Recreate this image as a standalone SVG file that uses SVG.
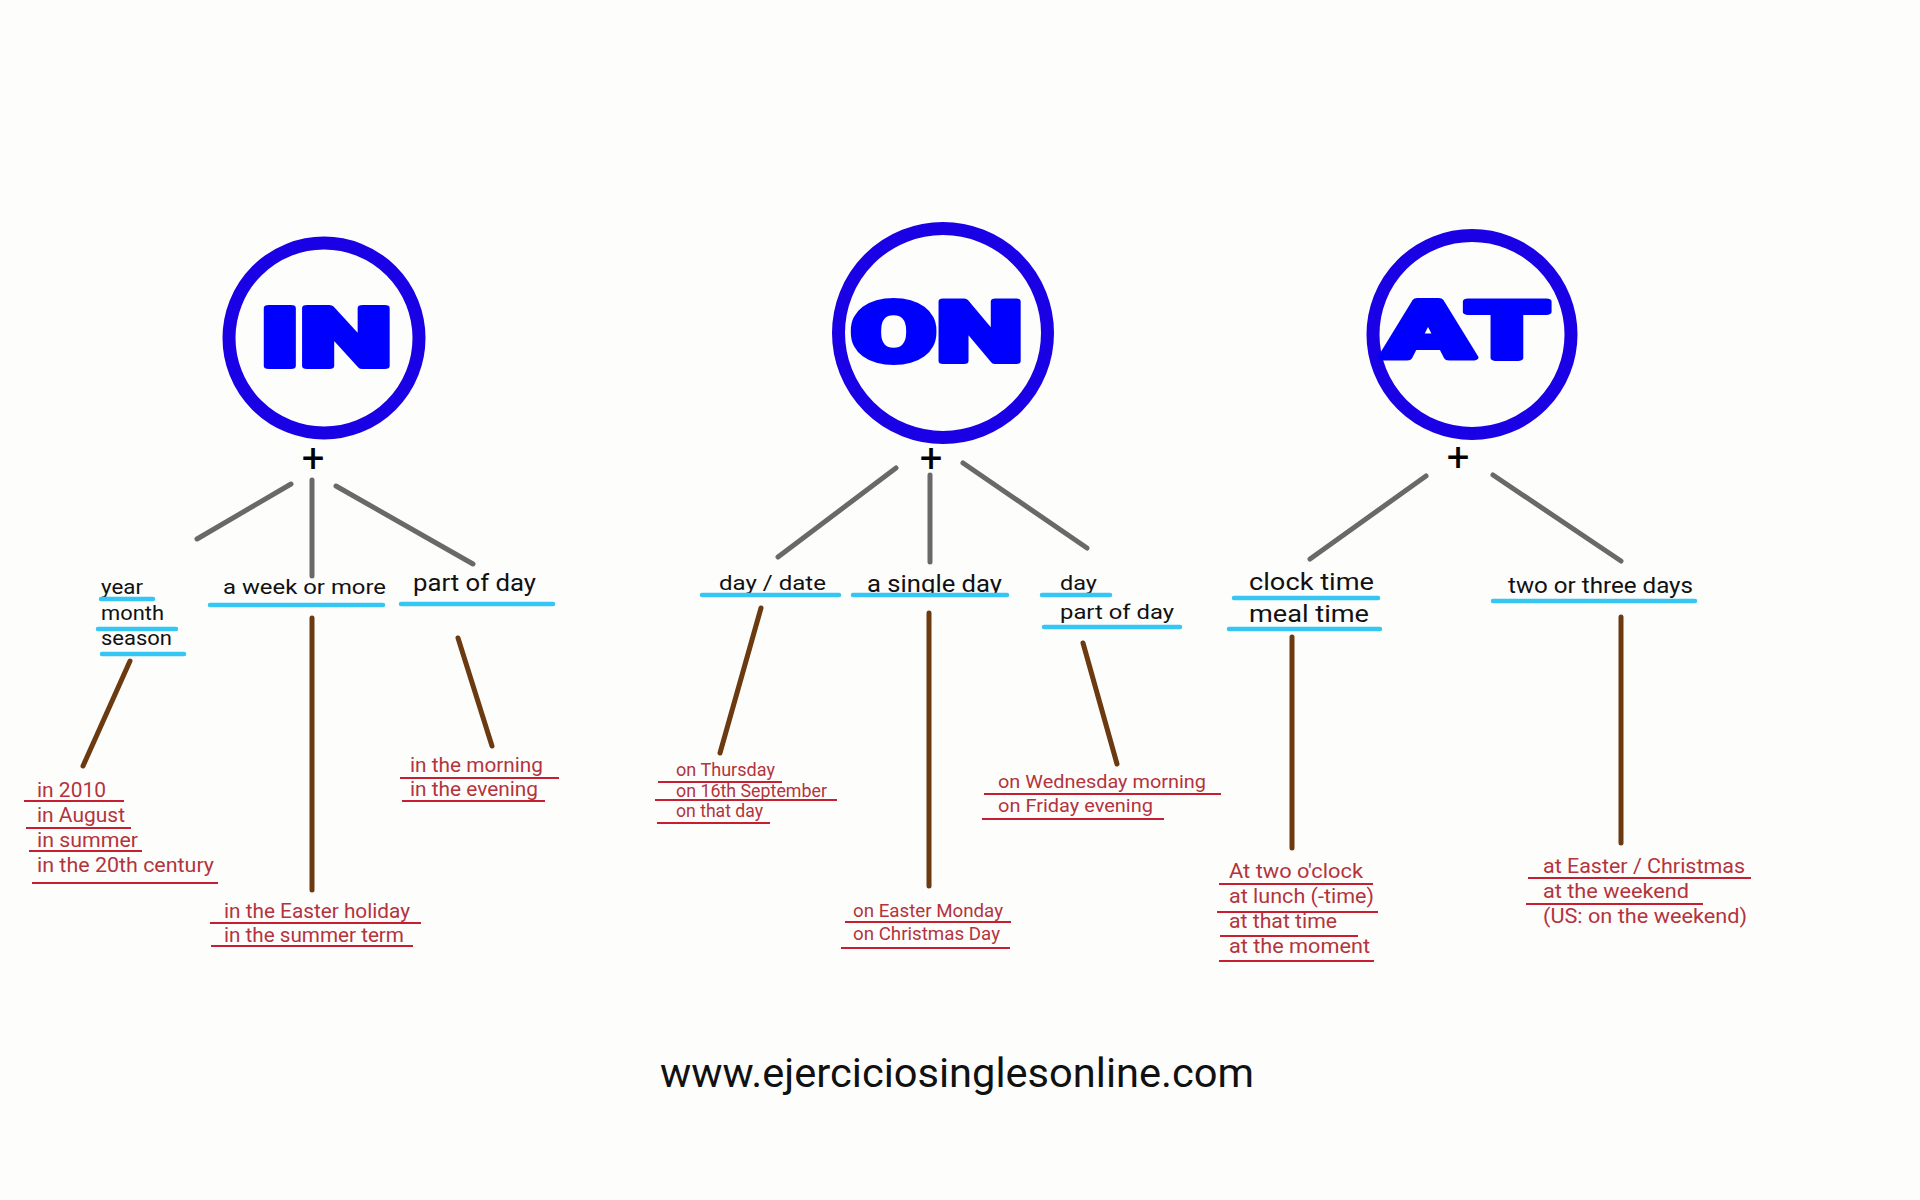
<svg xmlns="http://www.w3.org/2000/svg" width="1920" height="1200" viewBox="0 0 1920 1200">
<style>
.bg{fill:#fdfdfc}
.ring{fill:none;stroke:#1a00e4;stroke-width:13}
.logo{font-family:Roboto,"Liberation Sans",sans-serif;font-weight:900;fill:#0000ff;stroke:#0000ff;stroke-width:6;stroke-linejoin:round;text-anchor:middle}
.plus{font-family:Roboto,"Liberation Sans",sans-serif;font-size:40px;fill:#000;text-anchor:middle}
.lbl{font-family:Roboto,"Liberation Sans",sans-serif;fill:#111}
.ex{font-family:Roboto,"Liberation Sans",sans-serif;fill:#b3343d}
.gray{stroke:#696969;stroke-width:5;stroke-linecap:round;fill:none}
.brown{stroke:#6b3a10;stroke-width:5;stroke-linecap:round;fill:none}
.ub{stroke:#35c6f4;stroke-width:4.5;stroke-linecap:round;fill:none}
.ur{stroke:#c81e32;stroke-width:2.2;fill:none}
.foot{font-family:Roboto,"Liberation Sans",sans-serif;font-size:41px;fill:#111}
</style>
<rect class="bg" x="0" y="0" width="1920" height="1200"/>

<g id="connectors">
  <line class="gray" x1="291" y1="484" x2="197" y2="539"/>
  <line class="gray" x1="312" y1="480" x2="312" y2="576"/>
  <line class="gray" x1="336" y1="486" x2="473" y2="564"/>
  <line class="gray" x1="896" y1="468" x2="778" y2="557"/>
  <line class="gray" x1="930" y1="475" x2="930" y2="562"/>
  <line class="gray" x1="963" y1="463" x2="1087" y2="548"/>
  <line class="gray" x1="1426" y1="476" x2="1310" y2="559"/>
  <line class="gray" x1="1493" y1="475" x2="1621" y2="561"/>
  <line class="brown" x1="130" y1="661" x2="83" y2="766"/>
  <line class="brown" x1="312" y1="618" x2="312" y2="890"/>
  <line class="brown" x1="458" y1="638" x2="492" y2="746"/>
  <line class="brown" x1="761" y1="608" x2="720" y2="753"/>
  <line class="brown" x1="929" y1="613" x2="929" y2="886"/>
  <line class="brown" x1="1083" y1="643" x2="1117" y2="764"/>
  <line class="brown" x1="1292" y1="637" x2="1292" y2="848"/>
  <line class="brown" x1="1621" y1="617" x2="1621" y2="843"/>
</g>

<g id="node-in">
  <circle class="ring" cx="324" cy="338" r="95"/>
  <text class="logo" x="326" y="366" font-size="82" textLength="132" lengthAdjust="spacingAndGlyphs">IN</text>
  <text class="plus" x="313" y="472">+</text>
</g>
<g id="node-on">
  <circle class="ring" cx="943" cy="333" r="104.5"/>
  <text class="logo" x="937" y="361" font-size="84" textLength="172" lengthAdjust="spacingAndGlyphs">ON</text>
  <text class="plus" x="931" y="472">+</text>
</g>
<g id="node-at">
  <circle class="ring" cx="1472" cy="334.5" r="99"/>
  <text class="logo" x="1466" y="358" font-size="79" textLength="166" lengthAdjust="spacingAndGlyphs">AT</text>
  <text class="plus" x="1458" y="471">+</text>
</g>

<g id="cat-year-month-season">
  <text class="lbl" x="101" y="594" font-size="21" textLength="42" lengthAdjust="spacingAndGlyphs">year</text>
  <text class="lbl" x="101" y="620" font-size="21" textLength="63" lengthAdjust="spacingAndGlyphs">month</text>
  <text class="lbl" x="101" y="645" font-size="21" textLength="71" lengthAdjust="spacingAndGlyphs">season</text>
  <line class="ub" x1="101" y1="599" x2="153" y2="599"/>
  <line class="ub" x1="98" y1="629" x2="176" y2="629"/>
  <line class="ub" x1="102" y1="654" x2="184" y2="654"/>
</g>
<g id="cat-week">
  <text class="lbl" x="223" y="594" font-size="21" textLength="163" lengthAdjust="spacingAndGlyphs">a week or more</text>
  <line class="ub" x1="210" y1="605" x2="383" y2="605"/>
</g>
<g id="cat-in-partofday">
  <text class="lbl" x="413" y="591" font-size="23" textLength="123" lengthAdjust="spacingAndGlyphs">part of day</text>
  <line class="ub" x1="401" y1="604" x2="553" y2="604"/>
</g>
<g id="cat-daydate">
  <text class="lbl" x="719" y="590" font-size="21" textLength="107" lengthAdjust="spacingAndGlyphs">day / date</text>
  <line class="ub" x1="702" y1="595" x2="839" y2="595"/>
</g>
<g id="cat-singleday">
  <text class="lbl" x="867" y="592" font-size="23" textLength="135" lengthAdjust="spacingAndGlyphs">a single day</text>
  <line class="ub" x1="853" y1="595" x2="1007" y2="595"/>
</g>
<g id="cat-on-day-partofday">
  <text class="lbl" x="1060" y="590" font-size="21" textLength="37" lengthAdjust="spacingAndGlyphs">day</text>
  <text class="lbl" x="1060" y="619" font-size="21" textLength="114" lengthAdjust="spacingAndGlyphs">part of day</text>
  <line class="ub" x1="1042" y1="595" x2="1110" y2="595"/>
  <line class="ub" x1="1044" y1="627" x2="1180" y2="627"/>
</g>
<g id="cat-clock-meal">
  <text class="lbl" x="1249" y="590" font-size="23" textLength="125" lengthAdjust="spacingAndGlyphs">clock time</text>
  <text class="lbl" x="1249" y="622" font-size="23" textLength="120" lengthAdjust="spacingAndGlyphs">meal time</text>
  <line class="ub" x1="1234" y1="598" x2="1378" y2="598"/>
  <line class="ub" x1="1229" y1="629" x2="1380" y2="629"/>
</g>
<g id="cat-twothree">
  <text class="lbl" x="1508" y="593" font-size="22" textLength="185" lengthAdjust="spacingAndGlyphs">two or three days</text>
  <line class="ub" x1="1493" y1="601" x2="1695" y2="601"/>
</g>

<g id="ex-in-year">
  <text class="ex" x="37" y="797" font-size="21" textLength="69" lengthAdjust="spacingAndGlyphs">in 2010</text>
  <text class="ex" x="37" y="822" font-size="21" textLength="88" lengthAdjust="spacingAndGlyphs">in August</text>
  <text class="ex" x="37" y="847" font-size="21" textLength="101" lengthAdjust="spacingAndGlyphs">in summer</text>
  <text class="ex" x="37" y="872" font-size="21" textLength="177" lengthAdjust="spacingAndGlyphs">in the 20th century</text>
  <line class="ur" x1="24" y1="801" x2="124" y2="801"/>
  <line class="ur" x1="26" y1="828" x2="131" y2="828"/>
  <line class="ur" x1="29" y1="851" x2="142" y2="851"/>
  <line class="ur" x1="32" y1="883" x2="218" y2="883"/>
</g>
<g id="ex-in-week">
  <text class="ex" x="224" y="918" font-size="20" textLength="186" lengthAdjust="spacingAndGlyphs">in the Easter holiday</text>
  <text class="ex" x="224" y="942" font-size="20" textLength="180" lengthAdjust="spacingAndGlyphs">in the summer term</text>
  <line class="ur" x1="210" y1="923" x2="421" y2="923"/>
  <line class="ur" x1="211" y1="946" x2="413" y2="946"/>
</g>
<g id="ex-in-partofday">
  <text class="ex" x="410" y="772" font-size="20" textLength="133" lengthAdjust="spacingAndGlyphs">in the morning</text>
  <text class="ex" x="410" y="796" font-size="20" textLength="128" lengthAdjust="spacingAndGlyphs">in the evening</text>
  <line class="ur" x1="400" y1="778" x2="559" y2="778"/>
  <line class="ur" x1="402" y1="801" x2="545" y2="801"/>
</g>
<g id="ex-on-daydate">
  <text class="ex" x="676" y="776" font-size="18" textLength="99" lengthAdjust="spacingAndGlyphs">on Thursday</text>
  <text class="ex" x="676" y="797" font-size="18" textLength="151" lengthAdjust="spacingAndGlyphs">on 16th September</text>
  <text class="ex" x="676" y="817" font-size="18" textLength="87" lengthAdjust="spacingAndGlyphs">on that day</text>
  <line class="ur" x1="658" y1="782" x2="782" y2="782"/>
  <line class="ur" x1="655" y1="800" x2="837" y2="800"/>
  <line class="ur" x1="657" y1="823" x2="770" y2="823"/>
</g>
<g id="ex-on-single">
  <text class="ex" x="853" y="917" font-size="19" textLength="150" lengthAdjust="spacingAndGlyphs">on Easter Monday</text>
  <text class="ex" x="853" y="940" font-size="19" textLength="147" lengthAdjust="spacingAndGlyphs">on Christmas Day</text>
  <line class="ur" x1="845" y1="922" x2="1011" y2="922"/>
  <line class="ur" x1="841" y1="948" x2="1010" y2="948"/>
</g>
<g id="ex-on-partofday">
  <text class="ex" x="998" y="788" font-size="19" textLength="208" lengthAdjust="spacingAndGlyphs">on Wednesday morning</text>
  <text class="ex" x="998" y="812" font-size="19" textLength="155" lengthAdjust="spacingAndGlyphs">on Friday evening</text>
  <line class="ur" x1="984" y1="794" x2="1221" y2="794"/>
  <line class="ur" x1="982" y1="819" x2="1164" y2="819"/>
</g>
<g id="ex-at-clock">
  <text class="ex" x="1229" y="878" font-size="21" textLength="134" lengthAdjust="spacingAndGlyphs">At two o'clock</text>
  <text class="ex" x="1229" y="903" font-size="21" textLength="145" lengthAdjust="spacingAndGlyphs">at lunch (-time)</text>
  <text class="ex" x="1229" y="928" font-size="21" textLength="108" lengthAdjust="spacingAndGlyphs">at that time</text>
  <text class="ex" x="1229" y="953" font-size="21" textLength="141" lengthAdjust="spacingAndGlyphs">at the moment</text>
  <line class="ur" x1="1219" y1="884" x2="1373" y2="884"/>
  <line class="ur" x1="1217" y1="912" x2="1378" y2="912"/>
  <line class="ur" x1="1220" y1="936" x2="1358" y2="936"/>
  <line class="ur" x1="1219" y1="961" x2="1374" y2="961"/>
</g>
<g id="ex-at-days">
  <text class="ex" x="1543" y="873" font-size="20" textLength="202" lengthAdjust="spacingAndGlyphs">at Easter / Christmas</text>
  <text class="ex" x="1543" y="898" font-size="20" textLength="146" lengthAdjust="spacingAndGlyphs">at the weekend</text>
  <text class="ex" x="1543" y="923" font-size="20" textLength="204" lengthAdjust="spacingAndGlyphs">(US: on the weekend)</text>
  <line class="ur" x1="1528" y1="878" x2="1751" y2="878"/>
  <line class="ur" x1="1526" y1="904" x2="1703" y2="904"/>
</g>

<g id="footer">
  <text class="foot" x="660" y="1087" textLength="594" lengthAdjust="spacingAndGlyphs">www.ejerciciosinglesonline.com</text>
</g>
</svg>
